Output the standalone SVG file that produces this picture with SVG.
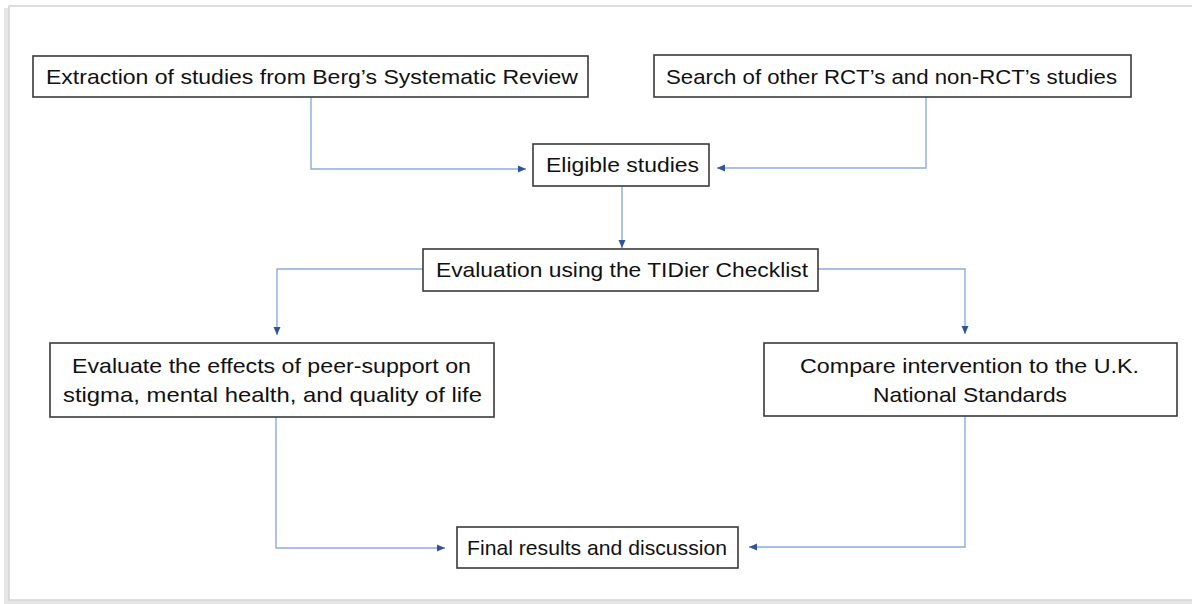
<svg xmlns="http://www.w3.org/2000/svg" width="1192" height="604" viewBox="0 0 1192 604">
<style>
.box{fill:#fff;stroke:#3a3a3a;stroke-width:1.6}
.t{font-family:"Liberation Sans",Arial,sans-serif;font-size:21px;fill:#111}
.c{fill:none;stroke:#8eaadb;stroke-width:1.4}
</style>
<defs>
<marker id="ah" viewBox="0 0 8 8" refX="8" refY="4" markerWidth="8" markerHeight="8" markerUnits="userSpaceOnUse" orient="auto">
<path d="M0,0.5 L8,4 L0,7.5 Z" fill="#2f5597"/>
</marker>
</defs>
<rect x="0" y="0" width="1192" height="604" fill="#fff"/>
<rect x="4" y="8" width="1190" height="596" fill="#e6e6e6"/>
<rect x="9" y="6" width="1190" height="594" fill="#fff" stroke="#d4d4d4" stroke-width="1.5"/>
<g id="connectors">
<path class="c" d="M311,97 V169 H526" marker-end="url(#ah)"/>
<path class="c" d="M926,97 V168 H717" marker-end="url(#ah)"/>
<path class="c" d="M622,186 V248" marker-end="url(#ah)"/>
<path class="c" d="M423,269 H277 V335" marker-end="url(#ah)"/>
<path class="c" d="M818,269 H965 V334" marker-end="url(#ah)"/>
<path class="c" d="M276,417 V548 H445" marker-end="url(#ah)"/>
<path class="c" d="M965,416 V547 H749" marker-end="url(#ah)"/>
</g>
<g id="n1">
<rect class="box" x="33" y="56" width="555" height="41"/>
<text class="t" x="46" y="84" textLength="532" lengthAdjust="spacingAndGlyphs">Extraction of studies from Berg’s Systematic Review</text>
</g>
<g id="n2">
<rect class="box" x="654" y="55" width="477" height="42"/>
<text class="t" x="666" y="84" textLength="451" lengthAdjust="spacingAndGlyphs">Search of other RCT’s and non-RCT’s studies</text>
</g>
<g id="n3">
<rect class="box" x="533" y="144" width="176" height="42"/>
<text class="t" x="546" y="172" textLength="153" lengthAdjust="spacingAndGlyphs">Eligible studies</text>
</g>
<g id="n4">
<rect class="box" x="423" y="249" width="395" height="42"/>
<text class="t" x="436" y="277" textLength="372" lengthAdjust="spacingAndGlyphs">Evaluation using the TIDier Checklist</text>
</g>
<g id="n5">
<rect class="box" x="50" y="343" width="444" height="74"/>
<text class="t" x="72" y="373" textLength="399" lengthAdjust="spacingAndGlyphs">Evaluate the effects of peer-support on</text>
<text class="t" x="63" y="402" textLength="419" lengthAdjust="spacingAndGlyphs">stigma, mental health, and quality of life</text>
</g>
<g id="n6">
<rect class="box" x="764" y="343" width="413" height="73"/>
<text class="t" x="800" y="373" textLength="339" lengthAdjust="spacingAndGlyphs">Compare intervention to the U.K.</text>
<text class="t" x="873" y="402" textLength="194" lengthAdjust="spacingAndGlyphs">National Standards</text>
</g>
<g id="n7">
<rect class="box" x="457" y="527" width="281" height="41"/>
<text class="t" x="467" y="555" textLength="260" lengthAdjust="spacingAndGlyphs">Final results and discussion</text>
</g>
</svg>
